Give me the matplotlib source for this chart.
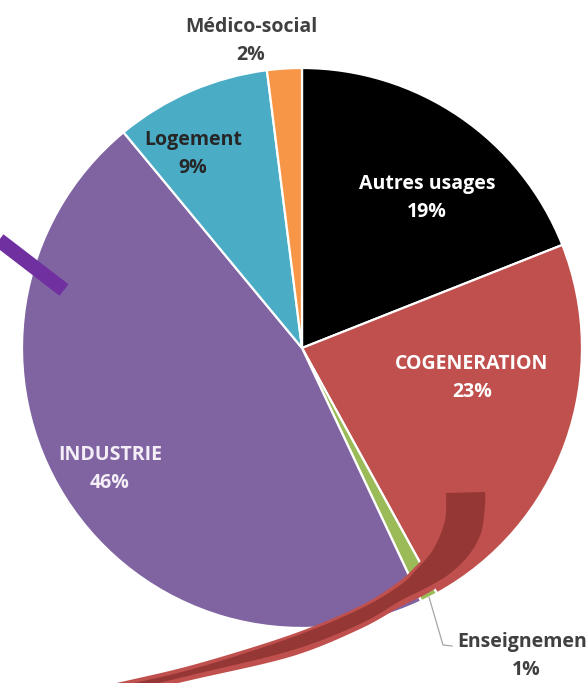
import numpy as np
import matplotlib.pyplot as plt
from matplotlib.patches import Polygon

labels = ["Autres usages", "COGENERATION", "Enseignement", "INDUSTRIE", "Logement", "Médico-social"]
values = [19, 23, 1, 46, 9, 2]
colors = ["#000000", "#C0504D", "#9BBB59", "#8064A2", "#4BACC6", "#F79646"]

plt.rcParams["font.family"] = ["Open Sans", "DejaVu Sans"]

W, H = 586, 683
cx, cy, R = 302, 348, 280


def px(x, y):
    # pixel position in the picture -> data coords (pie radius = 1)
    return ((x - cx) / R, (cy - y) / R)


def smooth(pts, n=20):
    # catmull-rom through the guide points (used for the decorative arrow only)
    p = np.array(pts, dtype=float)
    p = np.vstack([p[0], p, p[-1]])
    out = []
    for i in range(1, len(p) - 2):
        p0, p1, p2, p3 = p[i - 1], p[i], p[i + 1], p[i + 2]
        for t in np.linspace(0, 1, n, endpoint=False):
            out.append(0.5 * ((2 * p1) + (-p0 + p2) * t
                              + (2 * p0 - 5 * p1 + 4 * p2 - p3) * t ** 2
                              + (-p0 + 3 * p1 - 3 * p2 + p3) * t ** 3))
    out.append(p[-2])
    return out


fig = plt.figure(figsize=(W / 100, H / 100), dpi=100)
ax = fig.add_axes([0, 0, 1, 1])

wedges, _ = ax.pie(values, colors=colors, startangle=90, counterclock=False,
                   radius=1.0, wedgeprops=dict(edgecolor="white", linewidth=1.6))

ax.set_xlim(-cx / R, (W - cx) / R)
ax.set_ylim(-(H - cy) / R, cy / R)
ax.set_aspect("equal")
ax.axis("off")

# labels inside / outside the slices
label_pos = {
    "Autres usages": (427, 198, "white"),
    "COGENERATION": (472, 378, "white"),
    "INDUSTRIE": (110, 469, "#F4EEF6"),
    "Logement": (193, 154, "#262626"),
    "Médico-social": (251, 41, "#404040"),
    "Enseignement": (526, 656, "#404040"),
}
for lab, val in zip(labels, values):
    x, y, c = label_pos[lab]
    ax.text(*px(x, y), f"{lab}\n{val}%", ha="center", va="center", color=c,
            fontsize=14, fontweight="bold", linespacing=1.5)

# leader line for the small green slice
ang = np.radians(90 - (values[0] + values[1] + values[2] / 2) / 100 * 360)
p0 = (np.cos(ang), np.sin(ang))
p1 = px(443, 645)
p2 = px(452, 646)
ax.plot([p0[0], p1[0], p2[0]], [p0[1], p1[1], p2[1]], color="#A6A6A6", lw=0.9)

# purple pointer bar at top left
b0, b1 = px(-5, 237), px(64, 290)
ax.plot([b0[0], b1[0]], [b0[1], b1[1]], color="#7030A0", lw=10.5, solid_capstyle="butt")

# red curved arrow at the bottom (outer light band + dark core)
upper = [(444, 492), (443, 520), (432, 547), (415, 567), (397, 583), (360, 606),
         (293, 634), (200, 663), (130, 680), (50, 697)]
lower = [(488, 491), (488, 505), (484, 533), (472, 556), (452, 577), (428, 593),
         (400, 607), (360, 629), (293, 656), (200, 678), (130, 693), (50, 703)]
core_up = [(446, 493), (445, 520), (434, 548), (417, 569), (399, 586), (360, 609),
           (293, 637), (200, 667), (130, 684), (60, 699)]
core_lo = [(485, 492), (485, 505), (481, 533), (468, 556), (448, 575), (424, 589),
           (400, 601), (360, 624), (293, 650), (200, 673), (130, 689), (60, 699)]

for up, lo, fc in [(upper, lower, "#C0504D"), (core_up, core_lo, "#953735")]:
    outline = smooth(up) + smooth(lo)[::-1]
    ax.add_patch(Polygon([px(*q) for q in outline], closed=True, facecolor=fc,
                         edgecolor="none", zorder=5))

fig.savefig("out.png", dpi=100)
